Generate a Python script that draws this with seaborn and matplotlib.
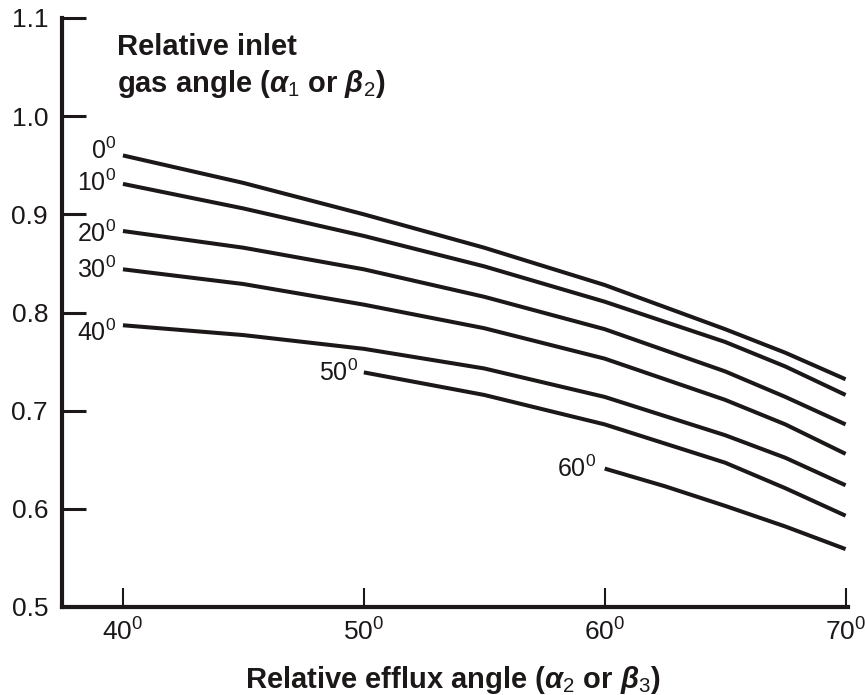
import matplotlib
matplotlib.use("Agg")
import matplotlib.pyplot as plt
import seaborn as sns
import pandas as pd

# ---- data ----
inlet_angles = [0, 10, 20, 30, 40, 50, 60]
inlet_labels = ["0$^0$", "10$^0$", "20$^0$", "30$^0$", "40$^0$", "50$^0$", "60$^0$"]

x_full = [40, 45, 50, 55, 60, 65, 67.5, 70]
x_50 = [50, 55, 60, 65, 67.5, 70]
x_60 = [60, 62.5, 65, 67.5, 70]

y_0 = [0.960, 0.932, 0.900, 0.866, 0.828, 0.783, 0.759, 0.732]
y_10 = [0.931, 0.906, 0.878, 0.847, 0.811, 0.770, 0.745, 0.716]
y_20 = [0.883, 0.866, 0.844, 0.816, 0.783, 0.740, 0.714, 0.686]
y_30 = [0.844, 0.829, 0.808, 0.784, 0.753, 0.711, 0.686, 0.656]
y_40 = [0.787, 0.777, 0.763, 0.743, 0.714, 0.675, 0.652, 0.624]
y_50 = [0.739, 0.716, 0.686, 0.647, 0.621, 0.593]
y_60 = [0.641, 0.623, 0.603, 0.582, 0.559]

x_ticks = [40, 50, 60, 70]
x_tick_labels = ["40$^0$", "50$^0$", "60$^0$", "70$^0$"]
y_ticks = [0.5, 0.6, 0.7, 0.8, 0.9, 1.0, 1.1]
y_tick_labels = ["0.5", "0.6", "0.7", "0.8", "0.9", "1.0", "1.1"]

series_x = [x_full, x_full, x_full, x_full, x_full, x_50, x_60]
series_y = [y_0, y_10, y_20, y_30, y_40, y_50, y_60]

rows = []
for ang, xs, ys in zip(inlet_angles, series_x, series_y):
    for xv, yv in zip(xs, ys):
        rows.append({"efflux": xv, "ratio": yv, "inlet": ang})
df = pd.DataFrame(rows)

# ---- style ----
sns.set_theme(style="white")
plt.rcParams["font.family"] = ["Liberation Sans", "DejaVu Sans"]
plt.rcParams["mathtext.fontset"] = "custom"
plt.rcParams["mathtext.rm"] = "Liberation Sans"
plt.rcParams["mathtext.it"] = "Liberation Sans:italic"
plt.rcParams["mathtext.bf"] = "Liberation Sans:bold"
plt.rcParams["mathtext.bfit"] = "Liberation Sans:bold:italic"
plt.rcParams["mathtext.sf"] = "Liberation Sans"

ink = "#1c1818"

fig = plt.figure(figsize=(8.65, 6.95), dpi=100)
ax = fig.add_axes([62 / 865, 1 - 607 / 695, 786 / 865, 589 / 695])

sns.lineplot(data=df, x="efflux", y="ratio", hue="inlet",
             palette={a: ink for a in inlet_angles}, legend=False,
             estimator=None, linewidth=2.9, ax=ax)
for ln in ax.get_lines():
    ln.set_solid_capstyle("butt")
    ln.set_solid_joinstyle("round")

ax.set_xlim(37.47, 70.1)
ax.set_ylim(0.5, 1.1)

ax.set_xticks(x_ticks)
ax.set_xticklabels(x_tick_labels, fontsize=19, color=ink)
ax.set_yticks(y_ticks)
ax.set_yticklabels(y_tick_labels, fontsize=19, color=ink)

ax.tick_params(axis="y", direction="in", length=17, width=2.2, color=ink, pad=10, left=True)
ax.tick_params(axis="x", direction="in", length=14, width=1.5, color=ink, pad=8, bottom=True)

sns.despine(ax=ax, top=True, right=True)
for side in ("left", "bottom"):
    ax.spines[side].set_linewidth(3.0)
    ax.spines[side].set_color(ink)
    ax.spines[side].set_capstyle("projecting")

ax.set_ylabel("")
ax.set_xlabel(r"Relative efflux angle ($\mathbfit{\alpha}_{2}$ or $\mathbfit{\beta}_{3}$)",
              fontsize=21, fontweight="bold", color=ink)
ax.xaxis.set_label_coords(0.497, -0.124)
ax.xaxis.label.set_va("center")

ax.text((117 - 62) / 786, (607 - 33) / 589,
        "Relative inlet\n" + r"gas angle ($\mathbfit{\alpha}_{1}$ or $\mathbfit{\beta}_{2}$)",
        transform=ax.transAxes, ha="left", va="top", fontsize=21,
        fontweight="bold", color=ink, linespacing=1.3)

# curve labels at the start of each curve (offsets in points)
offsets = [(-5, 3.5), (-5, 0.5), (-5, -2), (-5, 0), (-5, -5.5), (-4, 0), (-6.5, 0)]
for lab, xs, ys, off in zip(inlet_labels, series_x, series_y, offsets):
    ax.annotate(lab, xy=(xs[0], ys[0]), xytext=off, textcoords="offset points",
                ha="right", va="center", fontsize=18, color=ink)

fig.savefig("out.png", dpi=100)
